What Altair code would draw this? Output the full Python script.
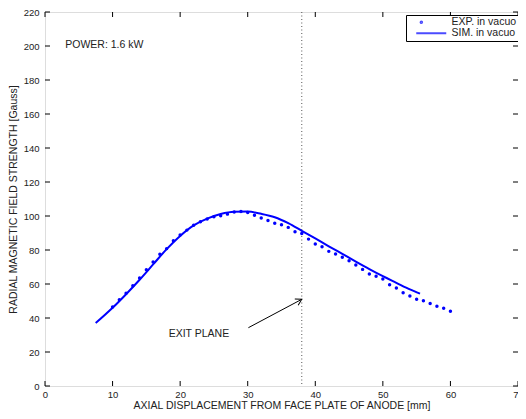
import altair as alt
import pandas as pd

# ---- data ----
exp_x = list(range(10, 61))
exp_y = [46.5, 50.7, 54.5, 59.0, 63.5, 68.4, 73.0, 77.5, 80.8, 85.5,
         88.8, 91.7, 94.5, 96.6, 98.2, 99.5, 100.1, 101.1, 102.4, 102.6,
         102.1, 100.5, 98.8, 97.4, 95.7, 94.9, 93.3, 90.7, 89.7, 86.4,
         83.5, 81.9, 79.2, 77.6, 75.7, 73.7, 71.2, 68.6, 65.9, 64.5,
         63.0, 59.6, 57.7, 54.8, 53.0, 51.0, 50.1, 48.5, 46.9, 45.7, 44.0]

sim_x = [7.5, 10, 12, 14, 16, 18, 20, 22, 24, 26, 28, 30, 32, 34, 36, 38,
         40, 42, 44, 46, 48, 50, 52, 54, 55.5]
sim_y = [37.0, 46.0, 54.0, 62.5, 71.5, 80.5, 88.3, 94.5, 98.5, 101.2, 102.5,
         102.6, 101.3, 99.3, 95.8, 91.3, 86.8, 82.2, 77.7, 73.2, 68.8, 64.6,
         60.7, 56.8, 54.3]

series = ["EXP. in vacuo", "SIM. in vacuo"]
x_ticks = [0, 10, 20, 30, 40, 50, 60, 70]
y_ticks = [0, 20, 40, 60, 80, 100, 120, 140, 160, 180, 200, 220]

exit_plane_x = [38.0]
arrow_x = [30.1, 38.0]
arrow_y = [34.3, 51.0]
power_text = ["POWER: 1.6 kW"]
power_pos = [3.0, 200.8]
exit_text = ["EXIT PLANE"]
exit_pos = [18.3, 30.3]

X_TITLE = "AXIAL DISPLACEMENT FROM FACE PLATE OF ANODE [mm]"
Y_TITLE = "RADIAL MAGNETIC FIELD STRENGTH [Gauss]"

W, H = 473, 374
BLUE = "#0000ff"
FONT = "Liberation Sans"

xs = alt.Scale(domain=[0, 70], nice=False, zero=False)
ys = alt.Scale(domain=[0, 220], nice=False, zero=False)

x_axis = alt.Axis(values=x_ticks, tickSize=0, labelPadding=3, grid=False,
                  domain=False, title=X_TITLE, titlePadding=2,
                  labelFontSize=9.5, titleFontSize=10.5, labelFlush=False,
                  labelOverlap=False, format="d",
                  titleFontWeight="normal", labelColor="#222", titleColor="#222")
y_axis = alt.Axis(values=y_ticks, tickSize=0, labelPadding=6, grid=False,
                  domain=False, title=Y_TITLE, titlePadding=5,
                  labelFontSize=9.5, titleFontSize=10.5, labelFlush=False,
                  labelOverlap=False, format="d",
                  titleFontWeight="normal", labelColor="#222", titleColor="#222")


def X(field):
    return alt.X(field, scale=xs, axis=x_axis, title=X_TITLE)


def Y(field):
    return alt.Y(field, scale=ys, axis=y_axis, title=Y_TITLE)


exp_df = pd.DataFrame({"x": exp_x, "y": exp_y})
sim_df = pd.DataFrame({"x": sim_x, "y": sim_y})

points = alt.Chart(exp_df).mark_circle(color=BLUE, size=12, opacity=1).encode(
    x=X("x:Q"), y=Y("y:Q"),
)

line = alt.Chart(sim_df).mark_line(color=BLUE, strokeWidth=2, interpolate="monotone").encode(
    x=X("x:Q"), y=Y("y:Q"),
)

exit_df = pd.DataFrame({"x": exit_plane_x})
exit_rule = alt.Chart(exit_df).mark_rule(color="#555", strokeWidth=1, strokeDash=[1, 2.5]).encode(
    x=X("x:Q"), y=alt.value(0), y2=alt.value(H),
)

arrow_df = pd.DataFrame({"x": arrow_x, "y": arrow_y, "o": [0, 1]})
arrow_line = alt.Chart(arrow_df).mark_line(color="black", strokeWidth=1).encode(
    x=X("x:Q"), y=Y("y:Q"), order="o:Q",
)
head_df = pd.DataFrame({"x": [arrow_x[1]], "y": [arrow_y[1]]})
arrow_head = alt.Chart(head_df).mark_point(
    shape="M-0.6,1L0,0L0.6,1", size=144, color="black", filled=False,
    strokeWidth=1, angle=62, opacity=1,
).encode(x=X("x:Q"), y=Y("y:Q"))

power_df = pd.DataFrame({"x": [power_pos[0]], "y": [power_pos[1]], "t": power_text})
power = alt.Chart(power_df).mark_text(align="left", baseline="middle", fontSize=10.5,
                                      font=FONT, color="#222").encode(
    x=X("x:Q"), y=Y("y:Q"), text="t:N")

exitt_df = pd.DataFrame({"x": [exit_pos[0]], "y": [exit_pos[1]], "t": exit_text})
exit_label = alt.Chart(exitt_df).mark_text(align="left", baseline="middle", fontSize=10.5,
                                           font=FONT, color="#222").encode(
    x=X("x:Q"), y=Y("y:Q"), text="t:N")

# inner ticks on all four sides
xt_df = pd.DataFrame({"t": x_ticks})
yt_df = pd.DataFrame({"t": y_ticks})
TL = 5
tick_bottom = alt.Chart(xt_df).mark_rule(color="black", strokeWidth=1).encode(
    x=X("t:Q"), y=alt.value(H), y2=alt.value(H - TL))
tick_top = alt.Chart(xt_df).mark_rule(color="black", strokeWidth=1).encode(
    x=X("t:Q"), y=alt.value(0), y2=alt.value(TL))
tick_left = alt.Chart(yt_df).mark_rule(color="black", strokeWidth=1).encode(
    y=Y("t:Q"), x=alt.value(0), x2=alt.value(TL))
tick_right = alt.Chart(yt_df).mark_rule(color="black", strokeWidth=1).encode(
    y=Y("t:Q"), x=alt.value(W), x2=alt.value(W - TL))

# legend-only layer (symbol paths scaled by sqrt(36)/2 = 3 px per unit)
dot_path = "M-3.55,0a0.25,0.25 0 1,0 0.5,0a0.25,0.25 0 1,0 -0.5,0"
line_path = "M-5,0H5"
leg_df = pd.DataFrame({"series": series})
legend_layer = alt.Chart(leg_df).mark_point(filled=False, color=BLUE, strokeWidth=2).encode(
    shape=alt.Shape("series:N",
                    scale=alt.Scale(domain=series, range=[dot_path, line_path]),
                    legend=alt.Legend(title=None, orient="none", legendX=361, legendY=3,
                                      padding=2, strokeColor="black", fillColor="white",
                                      symbolSize=36, symbolStrokeWidth=2,
                                      symbolStrokeColor=BLUE, symbolOffset=18,
                                      labelFontSize=10.5, labelColor="#222",
                                      labelFont=FONT, rowPadding=0, labelOffset=15)),
).transform_filter("datum.series == 'none'")

chart = alt.layer(
    exit_rule, arrow_line, arrow_head, line, points, power, exit_label,
    tick_bottom, tick_top, tick_left, tick_right, legend_layer,
).properties(
    width=W, height=H,
    padding={"left": 37, "top": 4, "right": 0, "bottom": 25},
    autosize=alt.AutoSizeParams(type="none"),
    background="white",
).configure_view(
    stroke="black", strokeWidth=1
).configure(
    font=FONT
)

chart.save("out.html", embed_options={"renderer": "svg", "actions": False})
